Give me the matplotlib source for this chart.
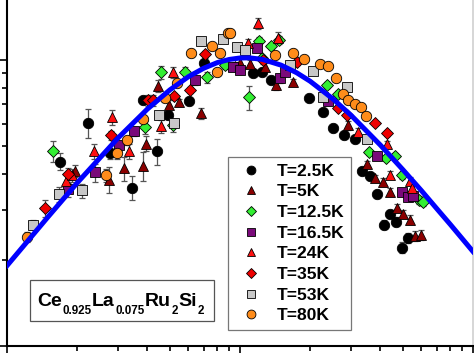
import matplotlib
matplotlib.use("Agg")
import matplotlib.pyplot as plt
from matplotlib.lines import Line2D
from matplotlib.patches import Rectangle
from matplotlib.transforms import IdentityTransform

plt.rcParams["font.family"] = ["Liberation Sans", "DejaVu Sans"]

# ---- data (log-log, x from 0.1 to 10) ----
x_25 = [0.169, 0.223, 0.277, 0.344, 0.383, 0.440, 0.491, 0.604, 0.700, 1.14, 1.24, 1.36,
        1.98, 2.27, 2.51, 2.79, 3.12, 3.34, 3.61, 3.87, 4.15, 4.40, 4.67, 5.26, 4.96]
y_25 = [0.442, 0.605, 0.472, 0.358, 0.724, 0.480, 0.641, 0.718, 0.976, 0.900, 0.908, 0.851,
        0.736, 0.657, 0.577, 0.546, 0.532, 0.411, 0.392, 0.339, 0.266, 0.290, 0.272, 0.239, 0.221]
e_25 = [0.03, 0.07, 0.02, 0.035, 0.02, 0.05, 0.02, 0.02, 0.02, 0.02, 0.02, 0.02,
        0.01, 0.01, 0.01, 0.01, 0.01, 0.01, 0.01, 0.01, 0.01, 0.01, 0.01, 0.01, 0.01]

x_5 = [0.196, 0.274, 0.318, 0.383, 0.395, 0.445, 0.496, 0.547, 0.680, 0.953, 1.0, 1.10,
       1.28, 1.43, 1.69, 2.91, 3.51, 3.80, 4.11, 4.40, 4.72, 5.01, 5.37, 5.64, 5.98]
y_5 = [0.411, 0.382, 0.418, 0.428, 0.511, 0.811, 0.695, 0.712, 0.652, 0.953, 0.976, 0.968,
       0.945, 0.817, 0.837, 0.592, 0.435, 0.388, 0.376, 0.347, 0.305, 0.290, 0.277, 0.243, 0.245]
e_5 = [0.02, 0.04, 0.04, 0.05, 0.03, 0.04, 0.03, 0.02, 0.03, 0.03, 0.03, 0.03,
       0.03, 0.03, 0.02, 0.02, 0.01, 0.01, 0.01, 0.01, 0.01, 0.01, 0.01, 0.01, 0.01]

x_125 = [0.157, 0.391, 0.458, 0.581, 0.515, 0.722, 0.862, 1.09, 1.21, 1.24, 1.36, 1.47,
         2.36, 2.64, 3.58, 4.24, 4.63, 4.96, 5.86, 6.10]
y_125 = [0.480, 0.582, 0.908, 0.908, 0.592, 0.871, 0.960, 0.742, 1.17, 1.016, 1.12, 1.18,
         0.817, 0.760, 0.476, 0.453, 0.464, 0.395, 0.325, 0.318]
e_125 = [0.04, 0.03, 0.05, 0.04, 0.03, 0.04, 0.03, 0.07, 0.04, 0.03, 0.03, 0.04,
         0.02, 0.02, 0.01, 0.01, 0.01, 0.01, 0.01, 0.01]

x_165 = [0.183, 0.239, 0.303, 0.351, 0.641, 0.933, 1.0, 1.18, 1.48, 1.56, 2.39, 3.87,
         4.96, 5.26, 5.53]
y_165 = [0.353, 0.405, 0.503, 0.563, 0.851, 0.945, 0.922, 1.10, 0.865, 0.908, 0.718, 0.464,
         0.347, 0.331, 0.336]
e_165 = [0.02, 0.03, 0.02, 0.02, 0.03, 0.03, 0.03, 0.03, 0.03, 0.03, 0.02, 0.01,
         0.01, 0.01, 0.01]

x_24 = [0.179, 0.190, 0.236, 0.282, 0.334, 0.458, 0.515, 1.08, 1.19, 1.46, 3.21, 4.28,
        4.40, 5.37, 5.47]
y_24 = [0.379, 0.395, 0.480, 0.631, 0.480, 0.587, 0.908, 1.15, 1.35, 1.20, 0.559, 0.511,
        0.398, 0.379, 0.356]
e_24 = [0.02, 0.02, 0.03, 0.04, 0.03, 0.03, 0.04, 0.04, 0.06, 0.05, 0.02, 0.01,
        0.01, 0.01, 0.01]

x_35 = [0.146, 0.183, 0.279, 0.403, 0.423, 0.521, 0.610, 0.707, 1.25, 1.76, 2.64, 2.88,
        3.80, 4.28]
y_35 = [0.303, 0.401, 0.546, 0.724, 0.724, 0.748, 0.785, 1.05, 1.0, 0.984, 0.679, 0.641,
        0.605, 0.554]
e_35 = [0.02, 0.02, 0.02, 0.03, 0.03, 0.02, 0.02, 0.03, 0.03, 0.02, 0.01, 0.01,
        0.01, 0.01]

x_53 = [0.129, 0.167, 0.210, 0.449, 0.521, 0.680, 0.845, 0.971, 1.05, 1.64, 2.06, 2.27,
        2.88, 3.51]
y_53 = [0.266, 0.339, 0.350, 0.641, 0.605, 1.17, 1.19, 1.11, 1.084, 0.960, 0.915, 0.742,
        0.804, 0.528]
e_53 = [0.01, 0.02, 0.02, 0.02, 0.02, 0.03, 0.03, 0.03, 0.03, 0.02, 0.02, 0.02,
        0.02, 0.01]

x_80 = [0.122, 0.266, 0.297, 0.327, 0.383, 0.477, 0.537, 0.616, 0.758, 0.796, 0.821, 0.888,
        0.906, 1.41, 1.69, 1.88, 2.20, 2.39, 2.58, 2.77, 2.91, 3.12, 3.31, 3.47]
y_80 = [0.241, 0.395, 0.472, 0.524, 0.621, 0.736, 0.830, 1.06, 1.12, 0.908, 1.06, 1.24,
        1.24, 1.04, 1.06, 1.01, 0.968, 0.953, 0.865, 0.760, 0.724, 0.701, 0.684, 0.636]
e_80 = [0.01, 0.02, 0.02, 0.02, 0.02, 0.02, 0.02, 0.03, 0.03, 0.02, 0.03, 0.03,
        0.03, 0.03, 0.02, 0.02, 0.02, 0.02, 0.02, 0.01, 0.01, 0.01, 0.01, 0.01]

labels = ["T=2.5K", "T=5K", "T=12.5K", "T=16.5K", "T=24K", "T=35K", "T=53K", "T=80K"]

# blue model curve
curve_x = [0.1, 0.15, 0.2, 0.3, 0.4, 0.5, 0.6, 0.7, 0.8, 0.9, 1.0, 1.1, 1.25, 1.5,
           1.75, 2.0, 2.5, 3.0, 4.0, 5.0, 6.0, 7.0, 8.0, 10.0]
curve_y = [0.191, 0.283, 0.372, 0.535, 0.674, 0.787, 0.875, 0.938, 0.981, 1.006, 1.018,
           1.019, 1.006, 0.961, 0.904, 0.844, 0.733, 0.641, 0.505, 0.414, 0.350, 0.302,
           0.266, 0.214]

# compound name: (text, is_subscript)
formula = [("Ce", False), ("0.925", True), ("La", False), ("0.075", True),
           ("Ru", False), ("2", True), ("Si", False), ("2", True)]

# ---- styles ----
data = [(x_25, y_25, e_25), (x_5, y_5, e_5), (x_125, y_125, e_125), (x_165, y_165, e_165),
        (x_24, y_24, e_24), (x_35, y_35, e_35), (x_53, y_53, e_53), (x_80, y_80, e_80)]
markers = ["o", "^", "D", "s", "^", "D", "s", "o"]
colors = ["black", "#8b0000", "#33ee33", "#7a0a7a", "#ff1010", "#ee0000", "#c8c8c8", "#ff8c1a"]
sizes = [7.5, 7.5, 6, 6.5, 7.5, 6, 6.5, 7.5]

fig = plt.figure(figsize=(4.74, 3.53), dpi=100)
ax = fig.add_axes([7 / 474, 7 / 353, 466 / 474, 346 / 353])
ax.set_xscale("log")
ax.set_yscale("log")

handles = []
for (xs, ys, es), m, c, s, lab in zip(data, markers, colors, sizes, labels):
    ax.errorbar(xs, ys, yerr=es, fmt="none", ecolor="#555555", elinewidth=0.9,
                capsize=2.5, capthick=0.9, zorder=2)
    ax.plot(xs, ys, ls="none", marker=m, ms=s, mfc=c, mec="black", mew=0.6, zorder=3)
    handles.append(Line2D([], [], ls="none", marker=m, ms=s * 0.85, mfc=c, mec="black",
                          mew=0.6, label=lab))

ax.plot(curve_x, curve_y, color="#0000ff", lw=3.6, zorder=5)

ax.set_xlim(0.1, 10)
ax.set_ylim(0.1, 1.624)

for side in ("left", "bottom"):
    ax.spines[side].set_linewidth(1.5)
ax.spines["top"].set_visible(False)
ax.spines["right"].set_color("#d0d0d0")
ax.spines["right"].set_linewidth(1.2)
ax.tick_params(which="both", direction="out", labelbottom=False, labelleft=False,
               right=False, top=False, width=1.2)
ax.tick_params(which="major", length=5)
ax.tick_params(which="minor", length=3.5)

leg = ax.legend(handles=handles, loc="upper left", bbox_to_anchor=(0.4742, 0.546),
                prop={"family": "Liberation Sans", "weight": "bold", "size": 12.6},
                frameon=True, fancybox=False, labelspacing=0.31, handletextpad=0.52,
                handlelength=1.9, borderpad=0.36, borderaxespad=0)
leg.get_frame().set_edgecolor("#555555")
leg.get_frame().set_linewidth(0.9)
leg.set_zorder(7)

# boxed compound name, laid out piece by piece (pixel coordinates)
ident = IdentityTransform()
fig.add_artist(Rectangle((30, 32), 184, 41, transform=ident, fc="white",
                         ec="#555555", lw=0.9, zorder=6))
renderer = fig.canvas.get_renderer()
cursor = 37
for piece, sub in formula:
    t = fig.text(cursor, 39.5 if sub else 47, piece, transform=ident,
                 fontsize=8.4 if sub else 14, fontweight="bold", ha="left",
                 va="baseline", zorder=7)
    cursor = t.get_window_extent(renderer).x1 + 0.5

fig.savefig("out.png", dpi=100)
